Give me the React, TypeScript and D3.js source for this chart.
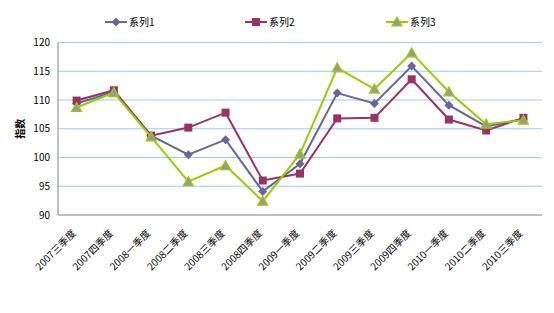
import React from "react";
import * as d3 from "d3";

const categories = ["2007三季度","2007四季度","2008一季度","2008二季度","2008三季度","2008四季度","2009一季度","2009二季度","2009三季度","2009四季度","2010一季度","2010二季度","2010三季度"];
const series1 = [109.4,111.4,103.8,100.5,103.1,94.1,98.9,111.2,109.4,115.9,109.1,105.4,106.7];
const series2 = [109.9,111.7,103.8,105.2,107.8,96.0,97.2,106.8,106.9,113.6,106.6,104.7,106.9];
const series3 = [108.7,111.3,103.6,95.8,98.6,92.4,100.6,115.6,111.9,118.2,111.4,105.8,106.5];
const seriesNames = ["系列1","系列2","系列3"];
const yTicks = [90,95,100,105,110,115,120];

const W = 554, H = 313;
const left = 58, right = 542, top = 42.5, bottom = 215;
const font = "'Noto Sans CJK SC', 'DejaVu Sans', sans-serif";

export default function App() {
  const x = d3.scaleBand<string>().domain(categories).range([left, right]);
  const y = d3.scaleLinear().domain([90, 120]).range([bottom, top]);
  const cx = (c: string) => (x(c) as number) + x.bandwidth() / 2;
  const line = d3.line<number>().x((_, i) => cx(categories[i])).y(d => y(d));
  const styles = [
    { color: "#666699", marker: "diamond", fill: "#666699" },
    { color: "#993366", marker: "square", fill: "#993366" },
    { color: "#99CC00", marker: "triangle", fill: "#999999" },
  ];
  const data = [series1, series2, series3];
  const marker = (m: string, px: number, py: number, s: any, key: any) => {
    if (m === "diamond") {
      return <path key={key} d={`M${px},${py-4.5}L${px+4.5},${py}L${px},${py+4.5}L${px-4.5},${py}Z`} fill={s.fill} />;
    }
    if (m === "square") {
      return <rect key={key} x={px-4} y={py-4} width={8} height={8} fill={s.fill} />;
    }
    return <path key={key} d={`M${px},${py-5}L${px+5},${py+4}L${px-5},${py+4}Z`} fill={s.fill} stroke={s.color} strokeWidth={1.2} />;
  };
  const legendX = [105, 245, 386];
  return (
    <svg width={W} height={H} style={{ position: "absolute", left: 0, top: 0, background: "#fff" }}>
      {yTicks.map(t => (
        <g key={t}>
          {t !== 90 && <line x1={left} x2={right} y1={y(t)} y2={y(t)} stroke="#99CCFF" strokeWidth={1} />}
          <text x={50} y={y(t) + 3.5} textAnchor="end" fontSize={10} fontFamily={font}>{t}</text>
        </g>
      ))}
      <line x1={left} x2={left} y1={top} y2={bottom} stroke="#808080" />
      <line x1={left} x2={right} y1={bottom} y2={bottom} stroke="#808080" />
      {categories.map(c => (
        <text key={c} transform={`translate(${cx(c)},${bottom + 19}) rotate(-45)`} textAnchor="end" fontSize={10} fontFamily={font}>{c}</text>
      ))}
      <text transform={`translate(24,${(top + bottom) / 2}) rotate(-90)`} textAnchor="middle" fontSize={10} fontWeight="bold" fontFamily={font}>指数</text>
      {data.map((d, si) => (
        <g key={si}>
          <path d={line(d) || ""} fill="none" stroke={styles[si].color} strokeWidth={2} />
          {d.map((v, i) => marker(styles[si].marker, cx(categories[i]), y(v), styles[si], i))}
        </g>
      ))}
      {seriesNames.map((n, i) => (
        <g key={n}>
          <line x1={legendX[i]} x2={legendX[i] + 22} y1={22} y2={22} stroke={styles[i].color} strokeWidth={2} />
          {marker(styles[i].marker, legendX[i] + 11, 22, styles[i], "m")}
          <text x={legendX[i] + 24} y={26} fontSize={10} fontFamily={font}>{n}</text>
        </g>
      ))}
    </svg>
  );
}
